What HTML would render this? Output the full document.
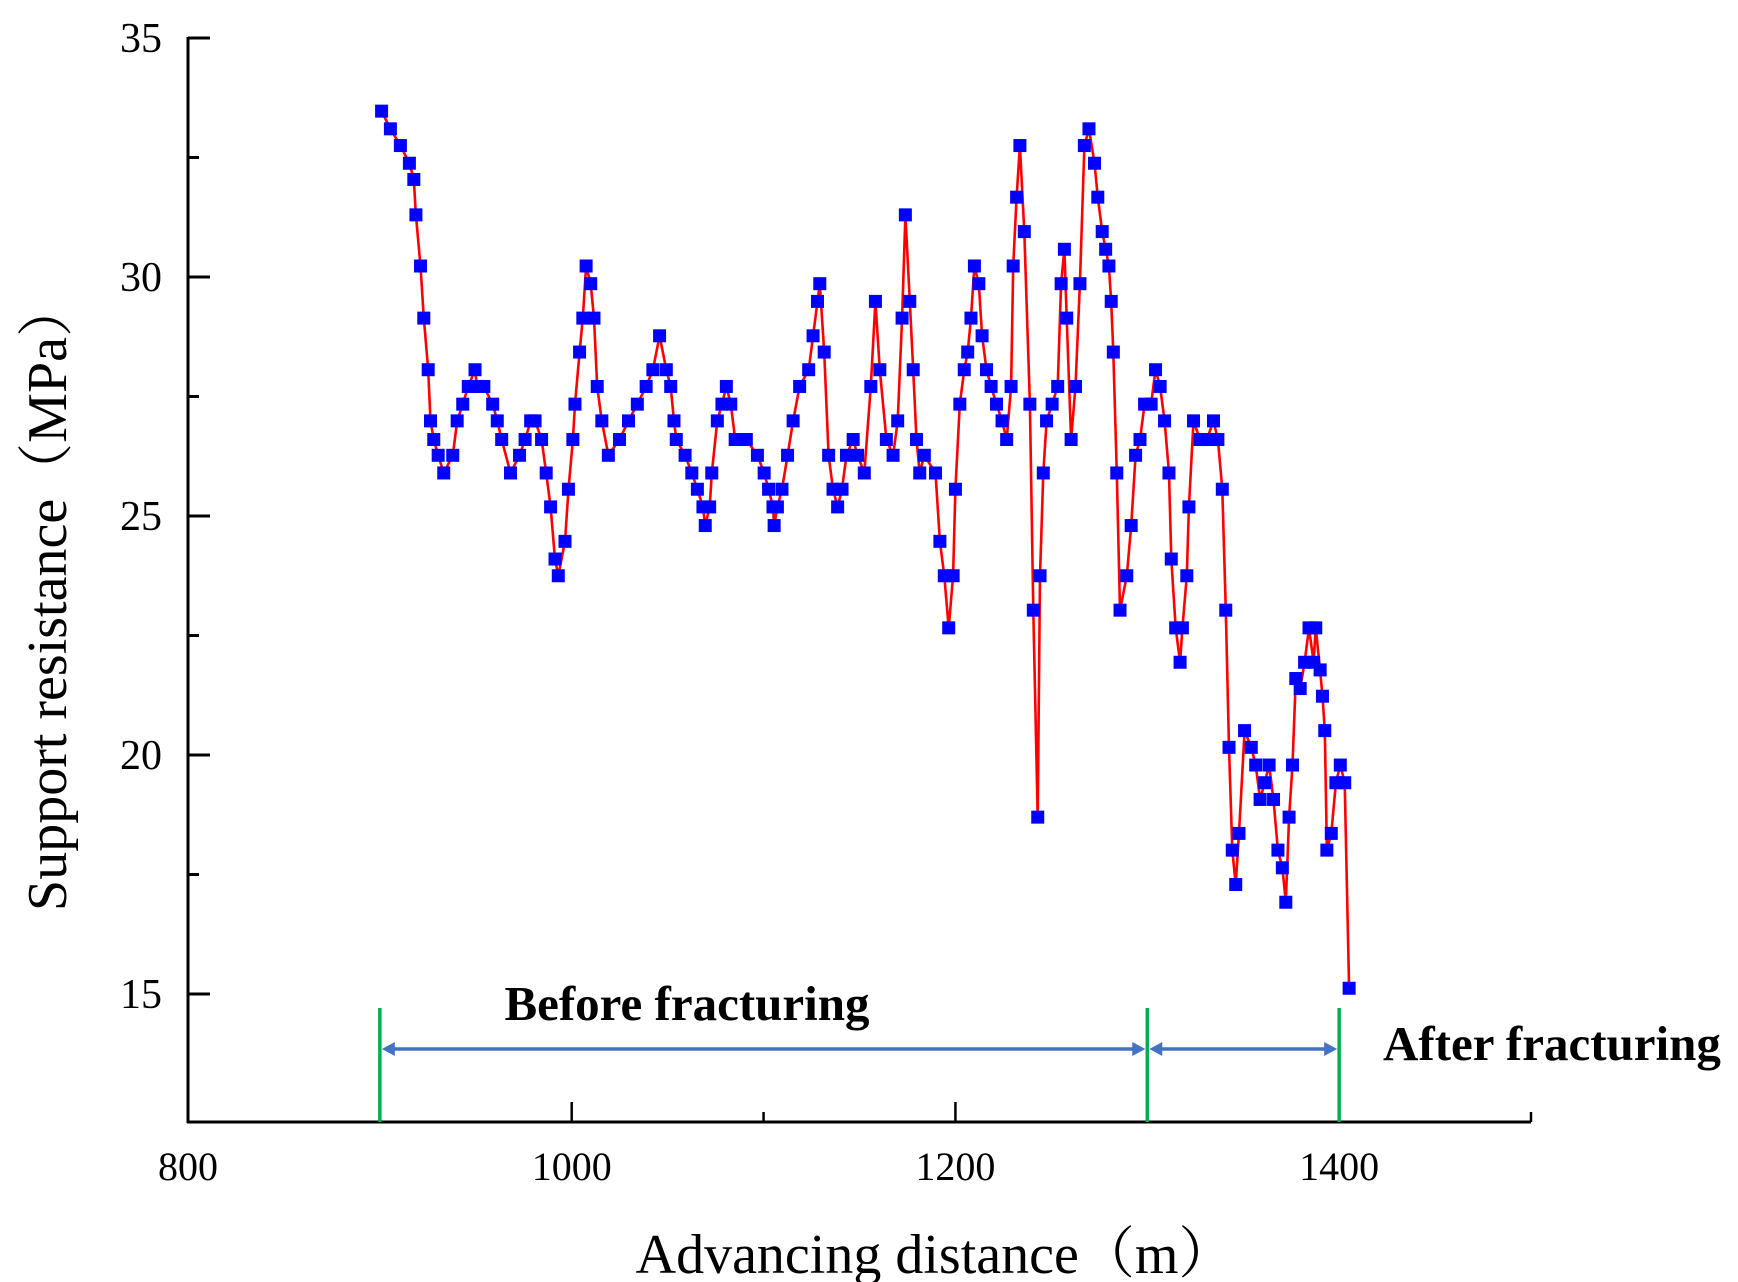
<!DOCTYPE html>
<html><head><meta charset="utf-8"><style>
html,body{margin:0;padding:0;background:#fff;}
svg{display:block;}
text{font-family:"Liberation Serif","Noto Serif CJK SC",serif;fill:#000;}
</style></head><body>
<svg id="chart" width="1738" height="1282" viewBox="0 0 1738 1282" xmlns="http://www.w3.org/2000/svg">
<g id="axes"></g>
<g id="annot"></g>
<g id="series"></g>
<text x="935" y="1273" font-size="56" text-anchor="middle">Advancing distance（m）</text>
<text transform="translate(66,596) rotate(-90)" font-size="56" text-anchor="middle">Support resistance（MPa）</text>
<text x="687" y="1020" font-size="49" font-weight="bold" text-anchor="middle">Before fracturing</text>
<text x="1383" y="1060" font-size="49" font-weight="bold">After fracturing</text>
</svg>
<script>
const distances=[900.9,905.5,910.7,915.4,917.7,918.8,921.2,922.9,925.2,926.4,928.1,930.4,933.3,938,940.3,943.2,946.1,949.6,950.7,954.2,958.8,961.2,963.5,968.1,972.8,975.7,978.6,980.9,984.3,986.7,989,991.3,993,996.5,998.3,1000.6,1001.7,1004.1,1005.8,1007.5,1009.9,1011.6,1013.3,1015.7,1019.1,1024.9,1029.6,1034.2,1038.8,1042.3,1045.8,1049.3,1051.6,1053.3,1054.5,1059.1,1062.6,1065.5,1068.4,1069.6,1071.9,1073,1075.9,1078.3,1080.6,1082.9,1085.2,1091,1096.8,1100.3,1102.6,1104.9,1105.5,1107.2,1109.6,1112.5,1115.4,1118.8,1123.5,1125.8,1128.1,1129.3,1131.6,1133.9,1136.2,1138.6,1140.9,1143.2,1146.7,1149,1152.5,1155.9,1158.3,1160.6,1164,1167.5,1169.9,1172.2,1173.9,1176.2,1178,1179.7,1181.4,1183.8,1189.6,1191.9,1194.2,1196.5,1198.8,1200,1202.3,1204.6,1206.4,1208.1,1209.9,1212.2,1213.9,1216.2,1218.6,1221.4,1224.3,1226.7,1229,1230.1,1231.9,1233.6,1235.9,1238.8,1240.6,1242.9,1244.1,1245.8,1247.5,1250.4,1253.3,1255.1,1256.8,1258,1260.3,1262.6,1264.9,1267.2,1269.6,1272.5,1274.2,1276.5,1278.3,1280,1281.2,1282.3,1284.1,1285.8,1289.3,1291.6,1293.9,1296.2,1298.6,1302,1304.3,1306.7,1309,1311.3,1312.5,1314.8,1317.1,1318.3,1320.6,1321.7,1324.1,1327.5,1331,1334.5,1336.8,1339.1,1340.9,1342.6,1344.3,1346.1,1347.8,1350.7,1354.2,1356.5,1358.8,1361.2,1363.5,1365.8,1368.1,1370.4,1372.2,1373.9,1375.7,1377.4,1379.7,1382,1384.3,1386.7,1387.8,1390.1,1391.3,1392.5,1393.6,1395.9,1398.3,1400.6,1402.9,1405.2];
const resistance=[33.47,33.1,32.75,32.38,32.04,31.3,30.23,29.14,28.06,26.99,26.6,26.27,25.9,26.27,26.99,27.34,27.71,28.06,27.71,27.71,27.34,26.99,26.6,25.9,26.27,26.6,26.99,26.99,26.6,25.9,25.19,24.1,23.75,24.47,25.56,26.6,27.34,28.43,29.14,30.23,29.86,29.14,27.71,26.99,26.27,26.6,26.99,27.34,27.71,28.06,28.77,28.06,27.71,26.99,26.6,26.27,25.9,25.56,25.19,24.8,25.19,25.9,26.99,27.34,27.71,27.34,26.6,26.6,26.27,25.9,25.56,25.19,24.8,25.19,25.56,26.27,26.99,27.71,28.06,28.77,29.49,29.86,28.43,26.27,25.56,25.19,25.56,26.27,26.6,26.27,25.9,27.71,29.49,28.06,26.6,26.27,26.99,29.14,31.3,29.49,28.06,26.6,25.9,26.27,25.9,24.47,23.75,22.66,23.75,25.56,27.34,28.06,28.43,29.14,30.23,29.86,28.77,28.06,27.71,27.34,26.99,26.6,27.71,30.23,31.67,32.75,30.95,27.34,23.03,18.7,23.75,25.9,26.99,27.34,27.71,29.86,30.58,29.14,26.6,27.71,29.86,32.75,33.1,32.38,31.67,30.95,30.58,30.23,29.49,28.43,25.9,23.03,23.75,24.8,26.27,26.6,27.34,27.34,28.06,27.71,26.99,25.9,24.1,22.66,21.94,22.66,23.75,25.19,26.99,26.6,26.6,26.99,26.6,25.56,23.03,20.16,18.01,17.29,18.36,20.51,20.16,19.79,19.07,19.42,19.79,19.07,18.01,17.64,16.92,18.7,19.79,21.6,21.39,21.94,22.66,21.94,22.66,21.78,21.23,20.51,18.01,18.36,19.42,19.79,19.42,15.12];
const yTicks=[15,20,25,30,35];
const yMinorTicks=[17.5,22.5,27.5,32.5];
const xTicks=[800,1000,1200,1400];
const xMinorTicks=[900,1100,1300,1500];
const phaseBounds=[900,1300,1400];

const NS="http://www.w3.org/2000/svg";
const X0=188,X1=1531,XMIN=800,XMAX=1500;
const YTOP=38,YMAXV=35,YPX=47.8,YBOT=1122;
function xs(v){return X0+(v-XMIN)*(X1-X0)/(XMAX-XMIN);}
function ys(v){return YTOP+(YMAXV-v)*YPX;}
function mk(tag,attrs,parent){const e=document.createElementNS(NS,tag);for(const k in attrs)e.setAttribute(k,attrs[k]);parent.appendChild(e);return e;}

const axes=document.getElementById('axes');
let yl=mk('line',{x1:X0,y1:YTOP-1,x2:X0,y2:YBOT+1,stroke:'#000','stroke-width':3},axes);


let xl=mk('line',{x1:X0-1,y1:YBOT,x2:X1,y2:YBOT,stroke:'#000','stroke-width':3},axes);


yTicks.forEach(v=>{
  const t=mk('line',{x1:X0,y1:ys(v),x2:X0+22,y2:ys(v),stroke:'#000','stroke-width':3},axes);
  
  
  const l=mk('text',{x:X0-26,y:ys(v)+14,'font-size':42,'text-anchor':'end'},axes);
  l.textContent=v;
  
  
});
yMinorTicks.forEach(v=>{
  const t=mk('line',{x1:X0,y1:ys(v),x2:X0+11,y2:ys(v),stroke:'#000','stroke-width':3},axes);
  
  
});
xTicks.forEach(v=>{
  const t=mk('line',{x1:xs(v),y1:YBOT,x2:xs(v),y2:YBOT-20,stroke:'#000','stroke-width':2.5},axes);
  
  
  const l=mk('text',{x:xs(v),y:1180,'font-size':40,'text-anchor':'middle'},axes);
  l.textContent=v;
  
  
});
xMinorTicks.forEach(v=>{
  const t=mk('line',{x1:xs(v),y1:YBOT,x2:xs(v),y2:YBOT-10,stroke:'#000','stroke-width':2.5},axes);
  
  
});

const annot=document.getElementById('annot');
phaseBounds.forEach(v=>{
  const g=mk('line',{x1:xs(v),y1:1008,x2:xs(v),y2:YBOT,stroke:'#00b050','stroke-width':3.5},annot);
  
  
});
const AY=1049;
for(let i=0;i<phaseBounds.length-1;i++){
  const a=xs(phaseBounds[i])+2,b=xs(phaseBounds[i+1])-2;
  const ln=mk('line',{x1:a+10,y1:AY,x2:b-10,y2:AY,stroke:'#4472c4','stroke-width':3.5},annot);
  
  
  const h1=mk('polygon',{points:`${a},${AY} ${a+13},${AY-7} ${a+13},${AY+7}`,fill:'#4472c4'},annot);
  
  
  const h2=mk('polygon',{points:`${b},${AY} ${b-13},${AY-7} ${b-13},${AY+7}`,fill:'#4472c4'},annot);
  
  
}

const ser=document.getElementById('series');
const n=Math.min(distances.length,resistance.length);
const pts=distances.slice(0,n).map((d,i)=>xs(d).toFixed(1)+','+ys(resistance[i]).toFixed(1)).join(' ');
const pl=mk('polyline',{points:pts,fill:'none',stroke:'#ff0000','stroke-width':2.6,'stroke-linejoin':'round'},ser);


distances.slice(0,n).forEach((d,i)=>{
  const r=mk('rect',{x:xs(d)-6.5,y:ys(resistance[i])-6.5,width:13,height:13,fill:'#0000ff'},ser);
  
  
});
</script>
</body></html>
